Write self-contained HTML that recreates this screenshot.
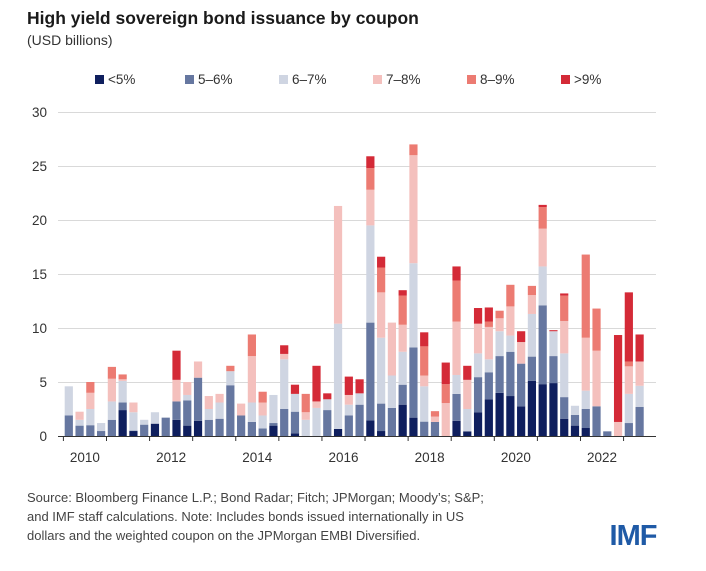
<!DOCTYPE html>
<html><head><meta charset="utf-8"><style>
body{margin:0;background:#fff;width:706px;height:566px;overflow:hidden;font-family:"Liberation Sans",sans-serif}
</style></head><body>
<svg id="s" width="706" height="566" xmlns="http://www.w3.org/2000/svg" font-family="Liberation Sans, sans-serif">
<text x="27" y="24" font-size="17.5" font-weight="bold" fill="#1a1a1a">High yield sovereign bond issuance by coupon</text>
<text x="27" y="45" font-size="14" fill="#333">(USD billions)</text>
<g font-size="13.5" fill="#333">
<rect x="95" y="75" width="9" height="9" fill="#0f1f5e"/><text x="108" y="84">&lt;5%</text>
<rect x="185" y="75" width="9" height="9" fill="#6677a0"/><text x="198" y="84">5–6%</text>
<rect x="279" y="75" width="9" height="9" fill="#cfd5e2"/><text x="292" y="84">6–7%</text>
<rect x="373" y="75" width="9" height="9" fill="#f4c0bd"/><text x="386" y="84">7–8%</text>
<rect x="467" y="75" width="9" height="9" fill="#ec7b72"/><text x="480" y="84">8–9%</text>
<rect x="561" y="75" width="9" height="9" fill="#d42a37"/><text x="574" y="84">&gt;9%</text>
</g>
<g id="grid" stroke="#d9d9d9" stroke-width="1"></g>
<g id="ylab" font-size="13.5" fill="#333" text-anchor="end"></g>
<g id="bars"></g>
<line x1="58" y1="436.5" x2="656" y2="436.5" stroke="#333" stroke-width="1"/>
<g id="ticks" stroke="#333"></g>
<g id="xlab" font-size="13.5" fill="#333" text-anchor="middle"></g>
<g font-size="13" fill="#444">
<text x="27" y="502">Source: Bloomberg Finance L.P.; Bond Radar; Fitch; JPMorgan; Moody’s; S&amp;P;</text>
<text x="27" y="521">and IMF staff calculations. Note: Includes bonds issued internationally in US</text>
<text x="27" y="540">dollars and the weighted coupon on the JPMorgan EMBI Diversified.</text>
</g>
<text x="633" y="545" font-size="29" font-weight="bold" fill="#1f5aa6" text-anchor="middle" letter-spacing="-1">IMF</text>
</svg>
<script>
var NS="http://www.w3.org/2000/svg";
function el(p,t,a,txt){var e=document.createElementNS(NS,t);for(var k in a)e.setAttribute(k,a[k]);if(txt!=null)e.textContent=txt;document.getElementById(p).appendChild(e);}
var Y=function(v){return 436-v*10.8;};
for(var v=0;v<=30;v+=5){ if(v>0) el("grid","line",{x1:58,x2:656,y1:Y(v)+0.5,y2:Y(v)+0.5}); el("ylab","text",{x:47,y:Y(v)+5},v);}
for(var i=0;i<14;i++){var x=63.4+i*43.09;el("ticks","line",{x1:x,x2:x,y1:436,y2:441});}
for(var i=0;i<7;i++){el("xlab","text",{x:63.4+43.09*(2*i+0.5),y:462},2010+2*i);}
var C=["#0f1f5e","#6677a0","#cfd5e2","#f4c0bd","#ec7b72","#d42a37"];
// cumulative tops: [<5, 5-6, 6-7, 7-8, 8-9, >9]
var D=[
[0,1.9,4.6,4.6,4.6,4.6],[0,0.96,1.5,2.25,2.25,2.25],[0,1.0,2.5,4.0,5.0,5.0],[0,0.46,1.2,1.2,1.2,1.2],
[0,1.5,3.2,5.3,6.4,6.4],[2.4,3.1,5.1,5.25,5.7,5.7],[0.46,0.5,2.2,3.1,3.1,3.1],[0,1.05,1.5,1.5,1.5,1.5],
[1.14,1.14,2.2,2.2,2.2,2.2],[0,1.7,1.7,1.7,1.7,1.7],[1.5,3.2,3.2,5.2,5.2,7.9],[0.96,3.3,3.8,5.0,5.0,5.0],
[1.4,5.4,5.4,6.9,6.9,6.9],[0,1.5,2.5,3.7,3.7,3.7],[0,1.6,3.1,3.9,3.9,3.9],[0,4.7,6.0,6.0,6.5,6.5],
[0,1.9,1.9,3.0,3.0,3.0],[0,1.3,3.1,7.4,9.4,9.4],[0,0.7,1.9,3.1,4.1,4.1],[0.96,1.2,3.8,3.8,3.8,3.8],
[0,2.5,7.1,7.6,7.6,8.4],[0.25,2.25,3.9,3.9,3.9,4.75],[0,0,1.5,2.2,3.9,3.9],[0,0,2.6,3.2,3.2,6.5],
[0,2.4,3.4,3.4,3.4,3.95],[0.65,0.65,10.4,21.3,21.3,21.3],[0,1.9,2.9,3.8,3.8,5.5],[0,2.9,3.95,3.95,3.95,5.25],
[1.45,10.5,19.5,22.8,24.8,25.9],[0.46,3.0,9.1,13.3,15.6,16.6],[0,2.6,5.6,10.5,10.5,10.5],[2.9,4.75,7.8,10.3,13.0,13.5],
[1.7,8.2,16.0,26.0,27.0,27.0],[0,1.33,4.6,5.6,8.3,9.6],[0,1.3,1.3,1.8,2.3,2.3],[0,0,0,3.05,4.8,6.8],
[1.4,3.9,5.65,10.6,14.4,15.7],[0.43,0.43,2.5,5.2,5.2,6.5],[2.2,5.45,7.65,10.4,10.4,11.85],[3.4,5.9,7.1,10.1,10.6,11.9],
[4.0,7.4,9.7,10.9,11.6,11.6],[3.7,7.8,9.3,12.0,14.0,14.0],[2.75,6.7,6.7,8.7,8.7,9.7],[5.1,7.35,11.3,13.05,13.9,13.9],
[4.8,12.1,15.7,19.2,21.2,21.4],[4.9,7.4,9.7,9.7,9.7,9.8],[1.6,3.6,7.65,10.65,13.0,13.2],[0.96,1.95,2.8,2.8,2.8,2.8],
[0.74,2.5,4.2,9.1,16.8,16.8],[0,2.75,2.75,7.9,11.8,11.8],[0,0.43,0.43,0.43,0.43,0.43],[0,0,0,1.3,1.3,9.35],
[0,1.2,3.9,6.45,6.9,13.3],[0,2.7,4.65,6.9,6.9,9.4]];
for(var i=0;i<D.length;i++){var x=63.4+i*10.77+1.3,prev=0;
 for(var k=0;k<6;k++){var t=D[i][k];if(t>prev+0.001){el("bars","rect",{x:x,width:8.2,y:Y(t),height:(t-prev)*10.8,fill:C[k]});}prev=Math.max(prev,t);}
}
</script>
</body></html>
